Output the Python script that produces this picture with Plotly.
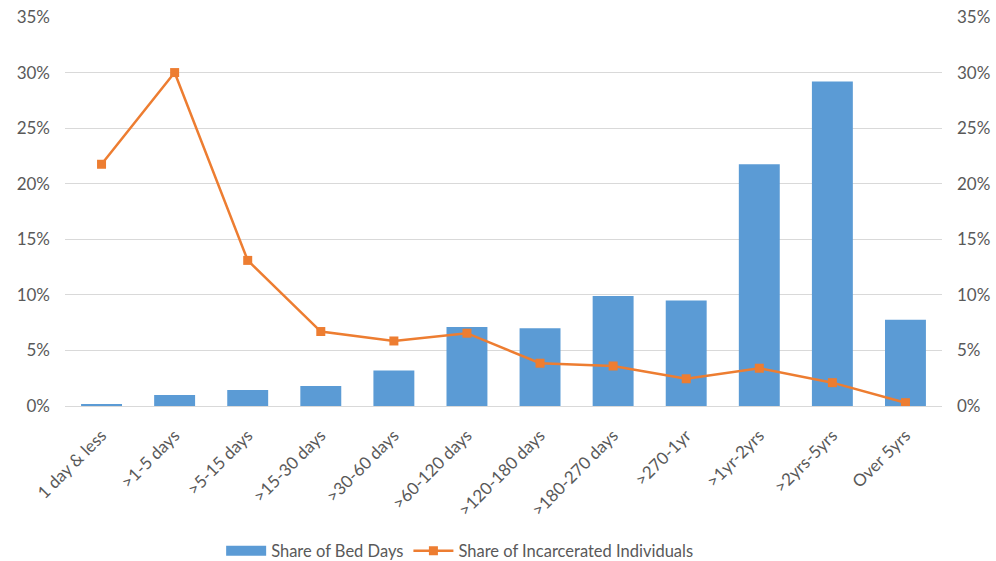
import plotly.graph_objects as go

categories = ["1 day & less", ">1-5 days", ">5-15 days", ">15-30 days", ">30-60 days",
              ">60-120 days", ">120-180 days", ">180-270 days", ">270-1yr",
              ">1yr-2yrs", ">2yrs-5yrs", "Over 5yrs"]
bed_days = [0.15, 1.0, 1.45, 1.8, 3.2, 7.1, 7.0, 9.9, 9.5, 21.75, 29.2, 7.75]
individuals = [21.75, 30.0, 13.1, 6.7, 5.85, 6.55, 3.85, 3.6, 2.45, 3.4, 2.1, 0.3]
tick_vals = [0, 5, 10, 15, 20, 25, 30, 35]
tick_text = [f"{v}%" for v in tick_vals]

FONT = "Lato, 'Open Sans', sans-serif"
TXT = "#595959"
BLUE = "#5b9bd5"
ORANGE = "#ed7d31"

fig = go.Figure()
fig.add_trace(go.Bar(
    x=categories, y=bed_days, name="Share of Bed Days",
    marker=dict(color=BLUE, line=dict(width=0)), showlegend=False,
))
# wide rectangular legend swatch for the bar series
fig.add_trace(go.Scatter(
    x=[None], y=[None], name="Share of Bed Days", mode="lines",
    line=dict(color=BLUE, width=10),
))
fig.add_trace(go.Scatter(
    x=categories, y=individuals, name="Share of Incarcerated Individuals",
    mode="lines+markers", yaxis="y2",
    line=dict(color=ORANGE, width=2.5),
    marker=dict(symbol="square", size=9, color=ORANGE),
))

fig.update_layout(
    width=996, height=561,
    margin=dict(l=65, r=54, t=17, b=155),
    paper_bgcolor="white", plot_bgcolor="white",
    font=dict(family=FONT, size=17, color=TXT),
    bargap=0.44,
    showlegend=True,
    legend=dict(orientation="h", x=0.45, xanchor="center",
                yref="container", y=0.018, yanchor="middle",
                font=dict(size=16.5, color=TXT), itemwidth=40),
    xaxis=dict(range=[-0.5, len(categories) - 0.5],
               tickangle=-45, showgrid=False, showline=True, linecolor="#d9d9d9",
               linewidth=1, ticks="", automargin=False, ticklabelstandoff=12,
               tickfont=dict(size=17, color=TXT)),
    yaxis=dict(range=[0, 35], tickvals=tick_vals, ticktext=tick_text,
               showgrid=True, gridcolor="#d9d9d9", gridwidth=1,
               zeroline=False, showline=False, ticks="", automargin=False,
               ticklabelstandoff=14, tickfont=dict(size=17, color=TXT)),
    yaxis2=dict(range=[0, 35], tickvals=tick_vals, ticktext=tick_text,
                overlaying="y", side="right", showgrid=False, zeroline=False,
                showline=False, ticks="", ticklabelstandoff=14, automargin=False,
                tickfont=dict(size=17, color=TXT)),
)

fig.write_html("out.html")
